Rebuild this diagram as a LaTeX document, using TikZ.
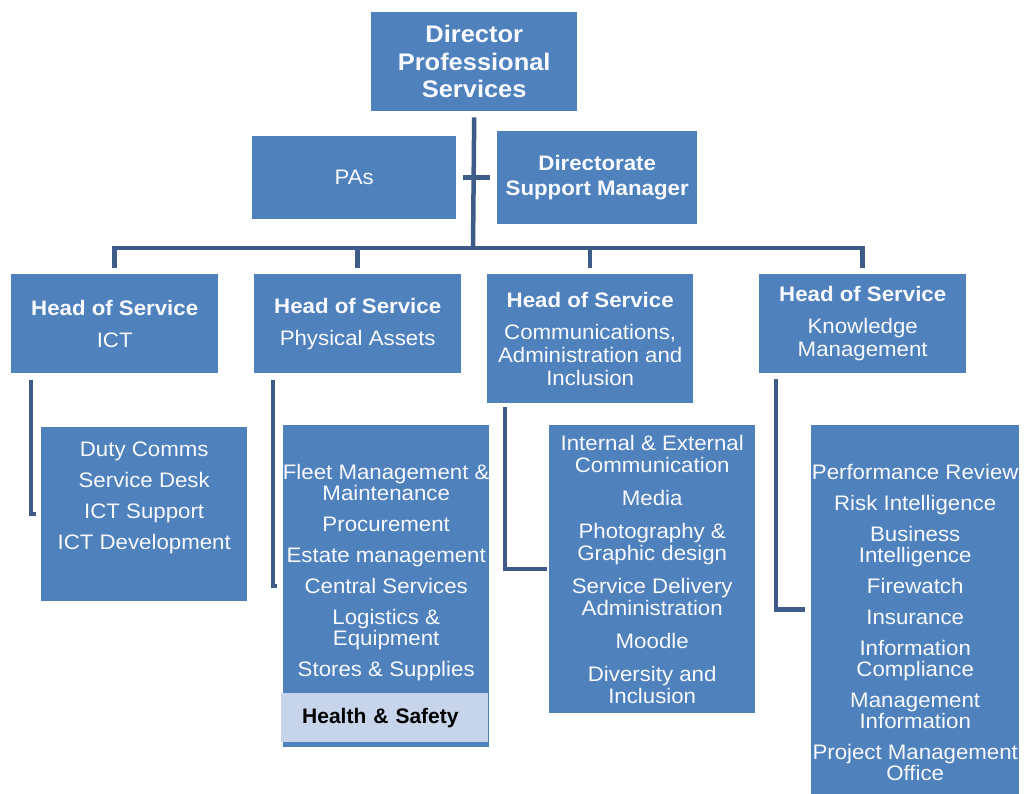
\documentclass[tikz,border=0pt]{standalone}
\usepackage{fontspec}
\setmainfont[FakeStretch=1.06]{Liberation Sans}
\newfontfamily\hsfont{Liberation Sans}
\usetikzlibrary{positioning}
\definecolor{boxblue}{RGB}{79,129,189}
\definecolor{linkblue}{RGB}{62,92,135}
\definecolor{hsblue}{RGB}{198,213,234}
\definecolor{txtwhite}{RGB}{248,250,255}

\begin{document}
\begin{tikzpicture}[x=1pt, y=-1pt]
	\tikzstyle{rect} = [rectangle, fill=boxblue, text=txtwhite, inner sep=0pt, align=center, anchor=north west]
	\tikzstyle{head} = [rect, minimum width=207pt, font=\fontsize{21}{23}\selectfont]
	\tikzstyle{list} = [align=center, text=txtwhite, anchor=north, inner sep=0pt, font=\fontsize{21}{21}\selectfont]
	\tikzstyle{conn} = [draw=linkblue, line width=4.5pt]
	\useasboundingbox (0,0) rectangle (1024,794);

	% top of the tree
	\node (dir) [rect, minimum width=206pt, minimum height=99pt, font=\bfseries\fontsize{24}{27.5}\selectfont] at (371,12) {Director\\Professional\\Services};
	\node (pas) [rect, minimum width=204pt, minimum height=83pt, font=\fontsize{21}{25}\selectfont] at (252,136) {PAs};
	\node (dsm) [rect, minimum width=200pt, minimum height=93pt, font=\bfseries\fontsize{21}{25}\selectfont] at (497,131) {Directorate\\Support Manager};

	% heads of service
	\node (hict) [head, minimum height=99pt] at (11,274) {\textbf{Head of Service}\\[9pt]ICT};
	\node (hpa) [head, minimum height=99pt] at (254,274) {\textbf{Head of Service}\\[9pt]Physical Assets};
	\node (hcai) [head, minimum width=206pt, minimum height=129pt] at (487,274) {\textbf{Head of Service}\\[9pt]Communications,\\Administration and\\Inclusion};
	\node (hkm) [head, minimum height=99pt] at (759,274) {\textbf{Head of Service}\\[9pt]Knowledge\\Management};

	% teams
	\node (lict) [rect, minimum width=206pt, minimum height=174pt] at (41,427) {};
	\node (lpa) [rect, minimum width=206pt, minimum height=322pt] at (283,425) {};
	\node (lcai) [rect, minimum width=206pt, minimum height=288pt] at (549,425) {};
	\node (lkm) [rect, minimum width=208pt, minimum height=369pt] at (811,425) {};
	\node (hs) [rect, fill=hsblue, text=black, align=left, minimum width=207pt, minimum height=49pt, text width=165pt, inner xsep=21pt, font=\hsfont\bfseries\fontsize{21}{21}\selectfont] at (281,693) {Health \& Safety};

	\node (tict) [list] at ([yshift=-15pt]lict.north) {Duty Comms\\[10pt]Service Desk\\[10pt]ICT Support\\[10pt]ICT Development};
	\node (tpa) [list] at ([yshift=-39pt]lpa.north) {Fleet Management \&\\Maintenance\\[10pt]Procurement\\[10pt]Estate management\\[10pt]Central Services\\[10pt]Logistics \&\\Equipment\\[10pt]Stores \& Supplies};
	\node (tcai) [list, font=\fontsize{21}{22}\selectfont] at ([yshift=-10pt]lcai.north) {Internal \& External\\Communication\\[11pt]Media\\[11pt]Photography \&\\Graphic design\\[11pt]Service Delivery\\Administration\\[11pt]Moodle\\[11pt]Diversity and\\Inclusion};
	\node (tkm) [list] at ([yshift=-39pt]lkm.north) {Performance Review\\[10pt]Risk Intelligence\\[10pt]Business\\Intelligence\\[10pt]Firewatch\\[10pt]Insurance\\[10pt]Information\\Compliance\\[10pt]Management\\Information\\[10pt]Project Management\\Office};

	% connectors
	\coordinate (bus) at (473,248);
	\draw[conn] ([yshift=-6pt]dir.south) -- (bus);
	\draw[conn] ([xshift=7pt]pas.east) -- ([xshift=-7pt]dsm.west |- pas.east);
	\draw[conn, line cap=rect] (hict.north |- bus) -- (hkm.north |- bus);
	\foreach \h in {hict,hpa,hcai,hkm}
	\draw[conn] (\h.north |- bus) -- ([yshift=6pt]\h.north);
	\draw[conn] ([xshift=20pt,yshift=-7pt]hict.south west) |- ([xshift=-5pt]lict.west);
	\draw[conn] ([xshift=19pt,yshift=-7pt]hpa.south west) |- ([xshift=-6pt]lpa.west);
	\draw[conn] ([xshift=18pt,yshift=-4pt]hcai.south west) |- ([xshift=-2pt]lcai.west);
	\draw[conn] ([xshift=17pt,yshift=-6pt]hkm.south west) |- ([xshift=-6pt]lkm.west);
\end{tikzpicture}
\end{document}
